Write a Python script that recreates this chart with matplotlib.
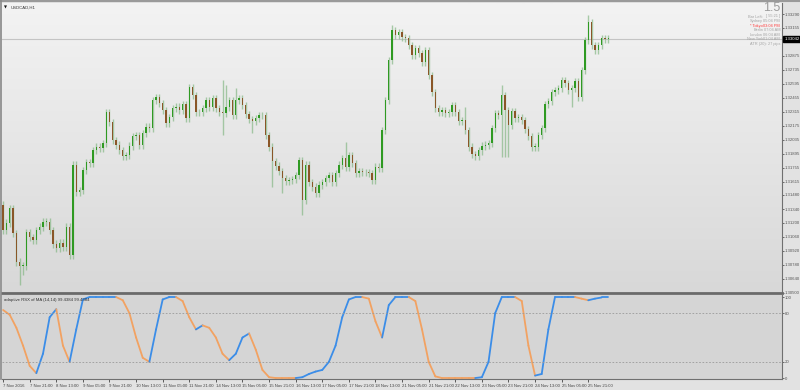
import numpy as np
import matplotlib
matplotlib.use("Agg")
import matplotlib.pyplot as plt
from matplotlib.collections import LineCollection
from matplotlib.colors import LinearSegmentedColormap

plt.rcParams["font.family"] = ["Liberation Sans", "DejaVu Sans"]

# USDCAD H1 closes, one candle per two hours
closes = [
    1.3113, 1.3120, 1.3135, 1.3110, 1.3081, 1.3077, 1.3077, 1.3111, 1.3106, 1.3103,
    1.3113, 1.3116, 1.3121, 1.3121, 1.3113, 1.3099, 1.3095, 1.3100, 1.3096, 1.3116,
    1.3088, 1.3178, 1.3151, 1.3153, 1.3173, 1.3181, 1.3180, 1.3193, 1.3196, 1.3195,
    1.3200, 1.3231, 1.3221, 1.3203, 1.3198, 1.3193, 1.3187, 1.3188, 1.3197, 1.3207,
    1.3208, 1.3198, 1.3210, 1.3216, 1.3215, 1.3243, 1.3246, 1.3240, 1.3233, 1.3220,
    1.3226, 1.3235, 1.3236, 1.3233, 1.3239, 1.3225, 1.3256, 1.3248, 1.3231, 1.3231,
    1.3235, 1.3243, 1.3236, 1.3245, 1.3235, 1.3231, 1.3230, 1.3236, 1.3243, 1.3228,
    1.3243, 1.3245, 1.3238, 1.3229, 1.3224, 1.3222, 1.3225, 1.3228, 1.3228, 1.3208,
    1.3196, 1.3182, 1.3177, 1.3172, 1.3165, 1.3162, 1.3163, 1.3164, 1.3168, 1.3183,
    1.3143, 1.3178, 1.3161, 1.3156, 1.3150, 1.3158, 1.3161, 1.3165, 1.3168, 1.3161,
    1.3170, 1.3178, 1.3185, 1.3176, 1.3188, 1.3180, 1.3170, 1.3172, 1.3171, 1.3171,
    1.3170, 1.3163, 1.3176, 1.3175, 1.3213, 1.3243, 1.3283, 1.3313, 1.3308, 1.3311,
    1.3306, 1.3305, 1.3298, 1.3288, 1.3295, 1.3290, 1.3281, 1.3293, 1.3268, 1.3251,
    1.3235, 1.3231, 1.3233, 1.3230, 1.3231, 1.3238, 1.3231, 1.3222, 1.3223, 1.3213,
    1.3196, 1.3189, 1.3187, 1.3193, 1.3197, 1.3198, 1.3200, 1.3215, 1.3230, 1.3228,
    1.3248, 1.3233, 1.3218, 1.3232, 1.3225, 1.3226, 1.3223, 1.3214, 1.3207, 1.3196,
    1.3196, 1.3208, 1.3215, 1.3239, 1.3242, 1.3251, 1.3253, 1.3255, 1.3263, 1.3260,
    1.3253, 1.3255, 1.3262, 1.3246, 1.3273, 1.3303, 1.3321, 1.3298, 1.3293, 1.3298,
    1.3305, 1.3304, 1.33042,
]
first_open = 1.3138
# long shadows that stand out
spike_high = {66: 1.3263, 67: 1.3258, 70: 1.3255, 89: 1.3186, 103: 1.3201,
              117: 1.3318, 139: 1.3236, 150: 1.3258, 176: 1.3328}
spike_low = {5: 1.3058, 6: 1.3068, 66: 1.3208, 75: 1.3210, 81: 1.3156, 84: 1.3150,
             90: 1.3128, 144: 1.3188, 150: 1.3186, 151: 1.3186, 152: 1.3186, 171: 1.3236}

# adaptive RSX values, one every two candles
rsx = [
    84, 78, 62, 40, 15, 6, 30, 75, 85, 40,
    20, 60, 97, 100, 100, 100, 100, 100, 96, 80,
    50, 25, 20, 60, 97, 100, 100, 95, 75, 60,
    65, 62, 50, 30, 22, 30, 50, 55, 35, 10,
    1, 0, 0, 0, 0, 1, 5, 8, 10, 20,
    40, 75, 97, 100, 100, 98, 70, 50, 90, 100,
    100, 100, 95, 60, 20, 2, 0, 0, 0, 0,
    0, 0, 1, 20, 80, 100, 100, 100, 95, 40,
    3, 5, 60, 100, 100, 100, 100, 98, 96, 98,
    99.4384, 99.4384,
]

price_ticks = [1.30500, 1.30640, 1.30780, 1.30920, 1.31060, 1.31200, 1.31340, 1.31480,
               1.31615, 1.31755, 1.31895, 1.32035, 1.32175, 1.32315, 1.32455, 1.32595,
               1.32735, 1.32875, 1.33155, 1.33290]
time_labels = ["7 Nov 2016", "7 Nov 21:00", "8 Nov 13:00", "9 Nov 05:00", "9 Nov 21:00",
               "10 Nov 13:00", "11 Nov 05:00", "11 Nov 21:00", "14 Nov 13:00",
               "15 Nov 05:00", "15 Nov 21:00", "16 Nov 13:00", "17 Nov 05:00",
               "17 Nov 21:00", "18 Nov 13:00", "21 Nov 05:00", "21 Nov 21:00",
               "22 Nov 13:00", "23 Nov 05:00", "23 Nov 21:00", "24 Nov 13:00",
               "25 Nov 05:00", "25 Nov 21:00"]
info_rows = [("Bar Left:", "[ 55:21 ]"), ("Sydney", "05:04 PM"), ("* Tokyo", "03:04 PM"),
             ("Berlin", "07:04 AM"), ("London", "06:04 AM"), ("New York", "01:04 AM")]

W, H = 800, 390
FS = 3.1
fig = plt.figure(figsize=(8, 3.9), dpi=100, facecolor="#e2e2e2")
ax = fig.add_axes([0.002, 1 - 293 / H, 780 / W, 290 / H])
ax2 = fig.add_axes([0.002, 1 - 379 / H, 780 / W, 84 / H], sharex=ax)

# background gradient of the price panel
grad = np.linspace(0, 1, 256).reshape(-1, 1)
ax.imshow(grad, aspect="auto", cmap=LinearSegmentedColormap.from_list(
    "bg", ["#f3f3f3", "#d8d8d8"]), extent=(-1, 240, 1.3050, 1.3340), zorder=0)
ax2.set_facecolor("#d5d5d5")

n = len(closes)
x = np.arange(n)
c = np.array(closes)
o = np.concatenate([[first_open], c[:-1]])
hi = np.maximum(o, c) + 0.00035
lo = np.minimum(o, c) - 0.00035
for k, v in spike_high.items():
    hi[k] = max(hi[k], v)
for k, v in spike_low.items():
    lo[k] = min(lo[k], v)

up = c >= o
ax.vlines(x, lo, hi, color="#86b886", lw=1.0, alpha=0.7, zorder=2)
body_h = np.maximum(np.abs(c - o), 0.00005)
ax.bar(x[up], body_h[up], bottom=np.minimum(o, c)[up], width=0.4,
       color="#2f9a22", zorder=3)
ax.bar(x[~up], body_h[~up], bottom=np.minimum(o, c)[~up], width=0.4,
       color="#8a5628", zorder=3)

# current price line and box
ax.axhline(closes[-1], color="#c4c4c4", lw=0.8, zorder=1)
ax.text(1.004, closes[-1], "%.5f" % closes[-1], transform=ax.get_yaxis_transform(),
        ha="left", va="center", fontsize=FS, color="white", zorder=6, clip_on=False,
        bbox=dict(boxstyle="square,pad=0.3", fc="black", ec="black"))

ax.set_xlim(-0.45, 234.15)
ax.set_ylim(1.3050, 1.3340)
ax.yaxis.tick_right()
ax.set_yticks(price_ticks)
ax.set_yticklabels(["%.5f" % p for p in price_ticks])
ax.tick_params(axis="y", labelsize=FS, colors="#555555", length=1.5, width=0.6, pad=1)
ax.tick_params(axis="x", bottom=False, labelbottom=False)
for s in ["top", "left"]:
    ax.spines[s].set_visible(False)
ax.spines["right"].set_color("#707070")
ax.spines["bottom"].set_color("#6a6a6a")
ax.spines["bottom"].set_linewidth(2.0)
ax.text(0.011, 0.99, "USDCAD,H1", transform=ax.transAxes, fontsize=FS,
        color="#333333", va="top", ha="left")
ax.text(0.003, 0.99, "▼", transform=ax.transAxes, fontsize=2.8,
        color="#111111", va="top", ha="left", family="DejaVu Sans")

# indicator line, blue rising / orange falling
rx = np.arange(len(rsx)) * 2
rv = np.array(rsx, dtype=float)
segs = [[(rx[i], rv[i]), (rx[i + 1], rv[i + 1])] for i in range(len(rv) - 1)]
cols = []
cur = "#3b8de8"
for i in range(len(rv) - 1):
    if rv[i + 1] > rv[i]:
        cur = "#3b8de8"
    elif rv[i + 1] < rv[i]:
        cur = "#f2a262"
    cols.append(cur)
ax2.add_collection(LineCollection(segs, colors=cols, linewidths=1.3, capstyle="round"))
for lvl in [80, 20]:
    ax2.axhline(lvl, color="#9a9a9a", lw=0.6, ls=(0, (2, 2)))
ax2.set_ylim(-1.2, 102.5)
ax2.yaxis.tick_right()
ax2.set_yticks([0, 20, 80, 100])
ax2.set_yticklabels(["0", "20", "80", "100"])
ax2.tick_params(axis="y", labelsize=FS, colors="#555555", length=1.5, width=0.6, pad=1)
ax2.set_xticks(np.arange(len(time_labels)) * 8)
ax2.set_xticklabels(time_labels, ha="left")
ax2.tick_params(axis="x", labelsize=FS, colors="#444444", length=2.5, width=0.6,
                pad=1)
for s in ["top", "left"]:
    ax2.spines[s].set_visible(False)
ax2.spines["right"].set_color("#707070")
ax2.spines["bottom"].set_color("#707070")
ax2.text(0.003, 0.965, "adaptive RSX of MA (14,14) 99.4384 99.4384",
         transform=ax2.transAxes, fontsize=FS, color="#333333", va="top", ha="left")

# info block in the top right corner
fig.text(780 / W, 1 - 8 / H, "1.5", ha="right", va="center", fontsize=9,
         color="#9c9c9c")
for i, (lab, val) in enumerate(info_rows):
    yy = 1 - (16.5 + 4.6 * i) / H
    col = "#ff3b3b" if "Tokyo" in lab else "#a4a4a4"
    fig.text(763 / W, yy, lab, ha="right", va="center", fontsize=2.8, color=col)
    fig.text(780 / W, yy, val, ha="right", va="center", fontsize=2.8, color=col)
fig.text(780 / W, 1 - 44 / H, "ATR (20): 27 pips", ha="right", va="center",
         fontsize=2.8, color="#a4a4a4")

# thin frame lines at the top and left
fig.add_artist(plt.Line2D([0, 1], [1 - 1 / H, 1 - 1 / H], color="#9a9a9a", lw=1.5))
fig.add_artist(plt.Line2D([0.001, 0.001], [1 - 379 / H, 1], color="#8a8a8a", lw=1.2))

fig.savefig("out.png", dpi=100, facecolor=fig.get_facecolor())
